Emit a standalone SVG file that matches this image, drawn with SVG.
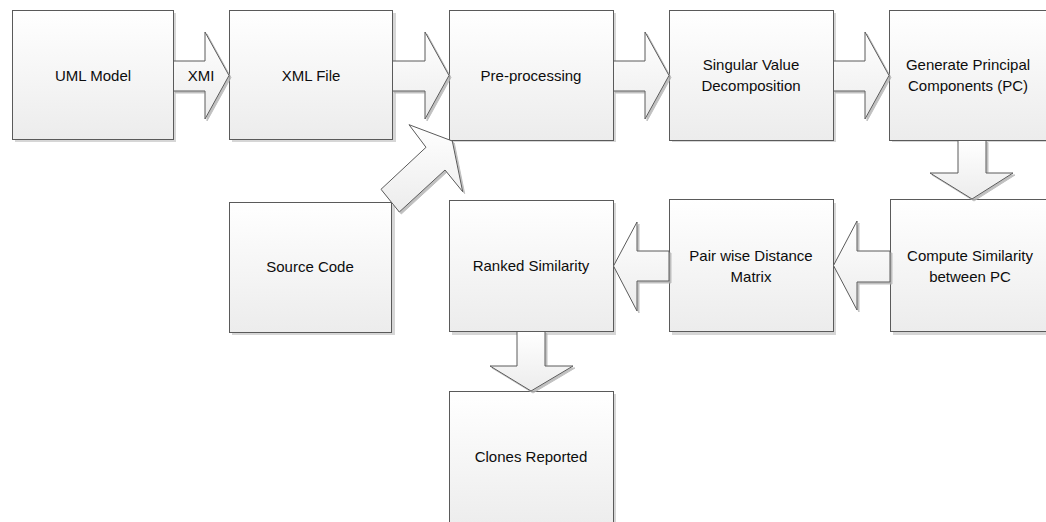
<svg xmlns="http://www.w3.org/2000/svg" width="1046" height="522" viewBox="0 0 1046 522">
<style>
.box{fill:url(#g);stroke:#5a5a5a;stroke-width:1}
.arr{fill:url(#g);stroke:#5a5a5a;stroke-width:1;stroke-linejoin:miter;filter:url(#ds)}
.sh{fill:#d6d6d6;stroke:none}
text{font-family:"Liberation Sans",Arial,sans-serif;font-size:15px;fill:#0d0d0d;text-anchor:middle}
</style>
<defs>
<linearGradient id="g" x1="0" y1="0" x2="0" y2="1">
<stop offset="0" stop-color="#ffffff"/>
<stop offset="1" stop-color="#ececec"/>
</linearGradient>
<filter id="ds" x="-10%" y="-10%" width="130%" height="130%">
<feDropShadow dx="2" dy="2" stdDeviation="0.6" flood-color="#b0b0b0" flood-opacity="0.8"/>
</filter>
</defs>
<g id="nodes">
<g id="uml"><rect class="sh" x="15" y="13" width="161" height="129"/><rect class="box" x="12.5" y="10.5" width="161" height="129"/><text x="93" y="81">UML Model</text></g>
<g id="xml"><rect class="sh" x="232" y="13" width="164" height="129"/><rect class="box" x="229.5" y="10.5" width="163" height="129"/><text x="311" y="81">XML File</text></g>
<g id="pre"><rect class="sh" x="452" y="13" width="164" height="129"/><rect class="box" x="449.5" y="10.5" width="164" height="130"/><text x="531" y="81">Pre-processing</text></g>
<g id="svd"><rect class="sh" x="672" y="13" width="164" height="129"/><rect class="box" x="669.5" y="10.5" width="164" height="130"/><text x="751" y="70">Singular Value</text><text x="751" y="91">Decomposition</text></g>
<g id="gen"><rect class="sh" x="892" y="13" width="166" height="129"/><rect class="box" x="889.5" y="10.5" width="166" height="130"/><text x="968" y="70">Generate Principal</text><text x="968" y="91">Components (PC)</text></g>
<g id="src"><rect class="sh" x="232" y="205" width="163" height="130"/><rect class="box" x="229.5" y="202.5" width="162" height="130"/><text x="310" y="272">Source Code</text></g>
<g id="ranked"><rect class="sh" x="452" y="203" width="164" height="132"/><rect class="box" x="449.5" y="200.5" width="164" height="131"/><text x="531" y="271">Ranked Similarity</text></g>
<g id="pair"><rect class="sh" x="672" y="203" width="164" height="132"/><rect class="box" x="669.5" y="199.5" width="164" height="132"/><text x="751" y="261">Pair wise Distance</text><text x="751" y="282">Matrix</text></g>
<g id="compute"><rect class="sh" x="893" y="202" width="166" height="133"/><rect class="box" x="890.5" y="199.5" width="166" height="132"/><text x="970" y="261">Compute Similarity</text><text x="970" y="282">between PC</text></g>
<g id="clones"><rect class="sh" x="452" y="394" width="164" height="140"/><rect class="box" x="449.5" y="391.5" width="164" height="140"/><text x="531" y="462">Clones Reported</text></g>
</g>
<g id="connectors">
<g id="a1"><polygon class="arr" points="173.5,61 205,61 205,32 229,75.5 205,119 205,91 173.5,91"/><text x="201" y="81">XMI</text></g>
<polygon id="a2" class="arr" points="392.5,61 425,61 425,32 449,75.5 425,119 425,91 392.5,91"/>
<polygon id="a3" class="arr" points="613.5,61 645,61 645,32 669,75.5 645,119 645,91 613.5,91"/>
<polygon id="a4" class="arr" points="833.5,61 865,61 865,32 889,75.5 865,119 865,91 833.5,91"/>
<polygon id="a5" class="arr" points="958,140.5 986,140.5 986,173 1013,173 972,199 930,173 958,173"/>
<polygon id="a6" class="arr" points="890,251 857,251 857,221 833.5,265.5 857,310 857,282 890,282"/>
<polygon id="a7" class="arr" points="669,251 637,251 637,222 613.5,266 637,311 637,281 669,281"/>
<polygon id="a8" class="arr" points="517,331.5 545,331.5 545,366 573,366 531,391 490,366 517,366"/>
<polygon id="a9" class="arr" points="381,189.3 426,147.3 409,124.7 452.3,141 462.7,191.7 445,170 399.3,212"/>
</g>
</svg>
